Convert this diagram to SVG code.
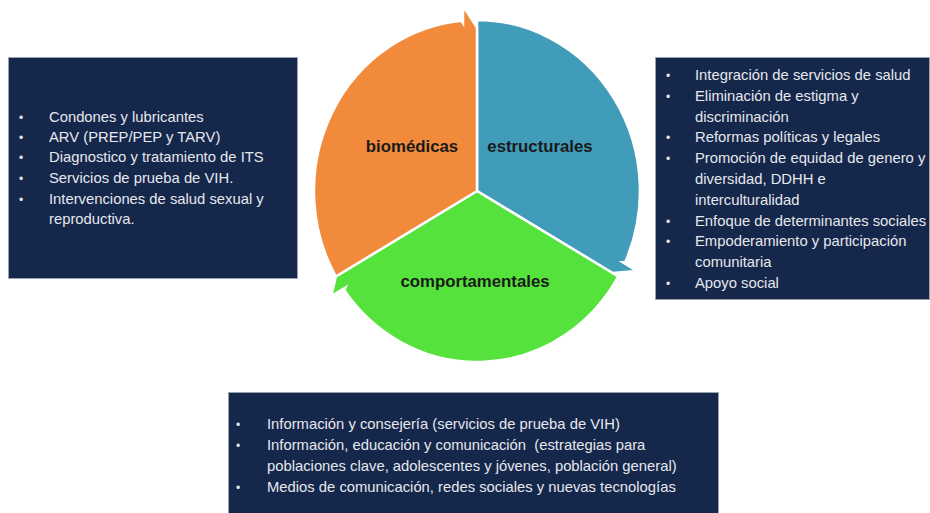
<svg xmlns="http://www.w3.org/2000/svg" width="930" height="513" viewBox="0 0 930 513">
<style>
.seg{stroke:#ffffff;stroke-width:2.5;stroke-linejoin:miter}
.lbl{font-family:"Liberation Sans",Arial,sans-serif;font-weight:bold;font-size:16.8px;fill:#1a1a1a;text-anchor:middle}
.box{fill:#15274a;stroke:#9aa2b0;stroke-width:1}
.t{font-family:"Liberation Sans",Arial,sans-serif;font-size:14.8px;fill:#e6e8ee;white-space:pre}
.b{font-family:"Liberation Sans",Arial,sans-serif;font-size:12px;fill:#e6e8ee}
</style>
<rect width="930" height="513" fill="#ffffff"/>
<g id="connectors"/>
<g id="node-estructurales">
<path class="seg" fill="#409cb9" d="M477 191 L477 20 A163 171 0 0 1 625.3 261.9 L622.5 262.2 L636.6 270.9 L612.5 273.1 Z"/>
<text class="lbl" x="540" y="152">estructurales</text>
</g>
<g id="node-comportamentales">
<path class="seg" fill="#55e23c" d="M477 191 L618.2 276.5 A163 171 0 0 1 344.3 290.3 L345.5 287.6 L331.3 296.1 L335.8 276.5 Z"/>
<text class="lbl" x="475" y="287">comportamentales</text>
</g>
<g id="node-biomedicas">
<path class="seg" fill="#f28a3c" d="M477 191 L335.8 276.5 A163 171 0 0 1 461.4 20.8 L463 23.2 L463.1 6 L477 27.7 Z"/>
<text class="lbl" x="412" y="152">biomédicas</text>
</g>
<g id="box-biomedicas">
<rect class="box" x="8.5" y="57.5" width="289" height="221"/>
<text class="b" x="19" y="122">•</text><text class="t" x="49" y="122">Condones y lubricantes</text>
<text class="b" x="19" y="142">•</text><text class="t" x="49" y="142">ARV (PREP/PEP y TARV)</text>
<text class="b" x="19" y="162">•</text><text class="t" x="49" y="162">Diagnostico y tratamiento de ITS</text>
<text class="b" x="19" y="183">•</text><text class="t" x="49" y="183">Servicios de prueba de VIH.</text>
<text class="b" x="19" y="204">•</text><text class="t" x="49" y="204">Intervenciones de salud sexual y</text>
<text class="t" x="49" y="224">reproductiva.</text>
</g>
<g id="box-estructurales">
<rect class="box" x="655.5" y="57.5" width="274" height="242"/>
<text class="b" x="666" y="80">•</text><text class="t" x="695" y="80">Integración de servicios de salud</text>
<text class="b" x="666" y="100.8">•</text><text class="t" x="695" y="100.8">Eliminación de estigma y</text>
<text class="t" x="695" y="121.6">discriminación</text>
<text class="b" x="666" y="142.4">•</text><text class="t" x="695" y="142.4">Reformas políticas y legales</text>
<text class="b" x="666" y="163.2">•</text><text class="t" x="695" y="163.2">Promoción de equidad de genero y</text>
<text class="t" x="695" y="184">diversidad, DDHH e</text>
<text class="t" x="695" y="204.8">interculturalidad</text>
<text class="b" x="666" y="225.6">•</text><text class="t" x="695" y="225.6">Enfoque de determinantes sociales</text>
<text class="b" x="666" y="246.4">•</text><text class="t" x="695" y="246.4">Empoderamiento y participación</text>
<text class="t" x="695" y="267.2">comunitaria</text>
<text class="b" x="666" y="288">•</text><text class="t" x="695" y="288">Apoyo social</text>
</g>
<g id="box-comportamentales">
<rect class="box" x="228.5" y="392.5" width="490" height="130"/>
<text class="b" x="236" y="429">•</text><text class="t" x="267" y="429">Información y consejería (servicios de prueba de VIH)</text>
<text class="b" x="236" y="450">•</text><text class="t" x="267" y="450">Información, educación y comunicación  (estrategias para</text>
<text class="t" x="267" y="471">poblaciones clave, adolescentes y jóvenes, población general)</text>
<text class="b" x="236" y="492">•</text><text class="t" x="267" y="492">Medios de comunicación, redes sociales y nuevas tecnologías</text>
</g>
</svg>
